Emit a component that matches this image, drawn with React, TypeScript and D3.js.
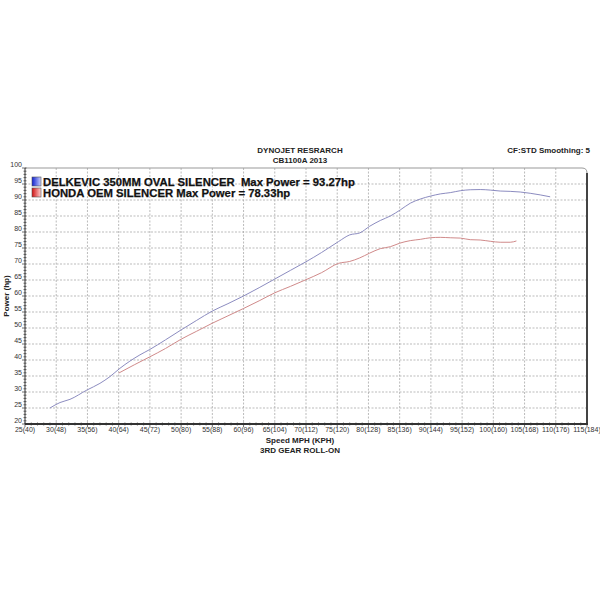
import React, { useRef, useEffect } from 'react';
import * as d3 from 'd3';

// speed (mph) / power (hp)
const delkevicSpeed = [29.0, 30.6, 32.2, 34.9, 37, 38.6, 40.2, 43.4, 45, 47.5, 50, 52.5, 55, 57.5, 60, 62.5, 65, 67.5, 70, 72.5, 75.2, 77, 78.6, 80.2, 81.9, 83.5, 85.1, 86.7, 88.3, 89.9, 91.5, 93.1, 94.7, 96.3, 97.9, 99.5, 101.1, 102.7, 104.3, 105.9, 107.5, 109.1];
const delkevicPower = [25.0, 26.7, 27.7, 30.6, 32.7, 34.8, 37.4, 41.6, 43.3, 46.3, 49.4, 52.4, 55.3, 57.6, 60, 62.6, 65.3, 68, 70.7, 73.6, 77, 79.1, 79.7, 81.8, 83.6, 85, 86.9, 89, 90.3, 91.2, 91.9, 92.3, 92.9, 93.2, 93.27, 93.1, 92.8, 92.7, 92.5, 92.1, 91.6, 91.0];

const hondaSpeed = [40, 42.5, 45, 47.5, 50, 52.5, 55, 57.5, 60, 62.5, 65, 67.5, 70, 72.5, 75.2, 77, 78.6, 80.2, 81.9, 83.5, 85, 86.7, 88.3, 89.9, 91.5, 93.1, 94.7, 96.3, 97.9, 99.5, 101.1, 102.7, 103.7];
const hondaPower = [35.9, 38.5, 41, 43.6, 46.5, 49, 51.5, 53.8, 56.1, 58.5, 61, 63, 65.1, 67.3, 70.2, 70.8, 71.9, 73.4, 74.8, 75.4, 76.5, 77.3, 77.7, 78.2, 78.33, 78.2, 78.1, 77.6, 77.5, 77.1, 76.8, 76.8, 77.2];

const xTicks = [25, 30, 35, 40, 45, 50, 55, 60, 65, 70, 75, 80, 85, 90, 95, 100, 105, 110, 115];
const xTickLabels = ['25(40)', '30(48)', '35(56)', '40(64)', '45(72)', '50(80)', '55(88)', '60(96)', '65(104)', '70(112)', '75(120)', '80(128)', '85(136)', '90(144)', '95(152)', '100(160)', '105(168)', '110(176)', '115(184)'];
const yTicks = [20, 25, 30, 35, 40, 45, 50, 55, 60, 65, 70, 75, 80, 85, 90, 95, 100];

const seriesNames = ['DELKEVIC 350MM OVAL SILENCER  Max Power = 93.27hp', 'HONDA OEM SILENCER Max Power = 78.33hp'];
const seriesColors = ['#8c8cc0', '#d08a8a'];

export default function App() {
    const ref = useRef<SVGSVGElement>(null);

    useEffect(() => {
        const svg = d3.select(ref.current);
        svg.selectAll('*').remove();

        const width = 600;
        const height = 600;
        const left = 25, right = 587, top = 168, bottom = 424;
        const font = '"Liberation Sans", Arial, sans-serif';

        svg.attr('width', width).attr('height', height);
        svg.append('rect').attr('width', width).attr('height', height).attr('fill', '#fff');

        const x = d3.scaleLinear().domain([25, 115]).range([left, right]);
        const y = d3.scaleLinear().domain([20, 100]).range([bottom, top]);

        // gradients for legend swatches
        const defs = svg.append('defs');
        [['gBlue', '#1020d0', '#c8d0ff'], ['gRed', '#d01010', '#ffd0d0']].forEach(([id, c1, c2]) => {
            const g = defs.append('linearGradient').attr('id', id).attr('x1', 0).attr('x2', 1);
            g.append('stop').attr('offset', 0).attr('stop-color', c1);
            g.append('stop').attr('offset', 1).attr('stop-color', c2);
        });

        // grid
        const grid = svg.append('g').attr('stroke', '#aaa').attr('stroke-width', 0.8).attr('stroke-dasharray', '2,1.5');
        grid.selectAll('.gx').data(xTicks.slice(1, -1)).join('line')
            .attr('x1', d => x(d)).attr('x2', d => x(d)).attr('y1', top).attr('y2', bottom);
        grid.selectAll('.gy').data(yTicks.slice(1, -1)).join('line')
            .attr('x1', left).attr('x2', right).attr('y1', d => y(d)).attr('y2', d => y(d));

        // frame: light top, dark shadowed right/bottom, rounded top-right
        svg.append('path')
            .attr('d', `M${left},${top} L${right - 5},${top} Q${right},${top} ${right},${top + 5}`)
            .attr('fill', 'none').attr('stroke', '#999').attr('stroke-width', 1);
        svg.append('line').attr('x1', right).attr('x2', right).attr('y1', top + 5).attr('y2', bottom)
            .attr('stroke', '#444').attr('stroke-width', 2);
        svg.append('line').attr('x1', left).attr('x2', right + 1).attr('y1', bottom).attr('y2', bottom)
            .attr('stroke', '#333').attr('stroke-width', 2);
        svg.append('line').attr('x1', left).attr('x2', left).attr('y1', top).attr('y2', bottom)
            .attr('stroke', '#333').attr('stroke-width', 1);

        // minor ticks
        const minor = svg.append('g').attr('stroke', '#333').attr('stroke-width', 0.7);
        minor.selectAll('.my').data(d3.range(20, 101, 1)).join('line')
            .attr('x1', d => left - (d % 5 === 0 ? 3 : 1.5)).attr('x2', left + 1.5)
            .attr('y1', d => y(d)).attr('y2', d => y(d));
        minor.selectAll('.mx').data(d3.range(25, 116, 1)).join('line')
            .attr('x1', d => x(d)).attr('x2', d => x(d))
            .attr('y1', bottom - 1.5).attr('y2', d => bottom + (d % 5 === 0 ? 3 : 1.5));

        // tick labels
        svg.append('g').selectAll('text').data(yTicks).join('text')
            .attr('x', left - 3).attr('y', d => y(d) - 1)
            .attr('text-anchor', 'end').attr('font-family', font).attr('font-size', 7).attr('fill', '#333')
            .text(d => d);
        svg.append('g').selectAll('text').data(xTicks).join('text')
            .attr('x', d => x(d)).attr('y', bottom + 8)
            .attr('text-anchor', 'middle').attr('font-family', font).attr('font-size', 7).attr('fill', '#333')
            .text((d, i) => xTickLabels[i]);

        // curves
        const line = d3.line<[number, number]>().x(d => x(d[0])).y(d => y(d[1])).curve(d3.curveMonotoneX);
        const curves: [number, number][][] = [
            delkevicSpeed.map((s, i) => [s, delkevicPower[i]]),
            hondaSpeed.map((s, i) => [s, hondaPower[i]]),
        ];
        curves.forEach((pts, i) => {
            svg.append('path').datum(pts).attr('d', line)
                .attr('fill', 'none').attr('stroke', seriesColors[i]).attr('stroke-width', 1);
        });

        // legend
        seriesNames.forEach((name, i) => {
            const ly = 177 + i * 11;
            svg.append('rect').attr('x', 32).attr('y', ly).attr('width', 9).attr('height', 9)
                .attr('fill', `url(#${i === 0 ? 'gBlue' : 'gRed'})`).attr('stroke', '#555').attr('stroke-width', 0.6);
            svg.append('text').attr('x', 43).attr('y', ly + 8.5)
                .attr('font-family', font).attr('font-weight', 'bold').attr('font-size', 11.3).attr('fill', '#111')
                .attr('stroke', '#111').attr('stroke-width', 0.25)
                .attr('xml:space', 'preserve').style('white-space', 'pre')
                .text(name);
        });

        // titles
        const bold = (tx: number, ty: number, s: string, anchor = 'middle', size = 8) =>
            svg.append('text').attr('x', tx).attr('y', ty).attr('text-anchor', anchor)
                .attr('font-family', font).attr('font-weight', 'bold').attr('font-size', size).attr('fill', '#222').text(s);
        bold(300, 153, 'DYNOJET RESRARCH');
        bold(300, 163, 'CB1100A 2013');
        bold(590, 153, 'CF:STD Smoothing: 5', 'end');
        bold(300, 443, 'Speed MPH (KPH)');
        bold(300, 453, '3RD GEAR ROLL-ON');
        svg.append('text').attr('transform', `translate(9,${(top + bottom) / 2}) rotate(-90)`)
            .attr('text-anchor', 'middle').attr('font-family', font).attr('font-weight', 'bold')
            .attr('font-size', 8).attr('fill', '#222').text('Power (hp)');
    }, []);

    return <svg ref={ref} style={{ position: 'absolute', left: 0, top: 0 }} />;
}
